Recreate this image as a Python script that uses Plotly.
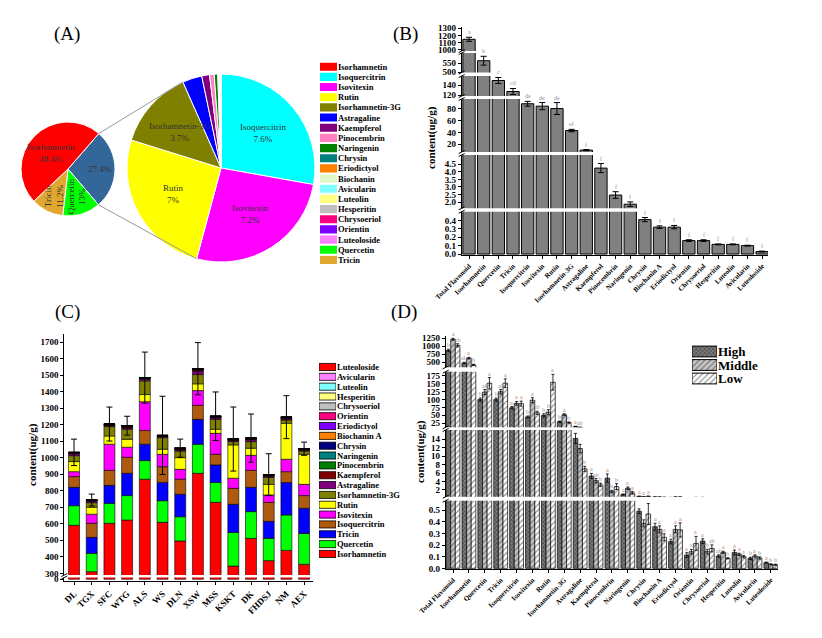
import numpy as np
import plotly.graph_objects as go

W, H = 822, 638
SERIF = "Liberation Serif"

# ---------------- panel A : pie of pie ----------------
small_pie_labels = ["Others", "Quercetin", "Tricin", "Isorhamnetin"]
small_pie_share = [27.4, 13.0, 11.2, 48.4]
small_pie_text = ["27.4%", "Quercetin<br>13%", "Tricin<br>11.2%", "Isorhamnetin<br>48.4%"]
small_pie_text_angle = [0, -90, -90, 0]
small_pie_text_radius = [0.68, 0.62, 0.66, 0.5]
small_pie_colors = ["#336699", "#00ff00", "#e0a830", "#ff0000"]

big_pie_labels = ["Isoquercitrin", "Isovitexin", "Rutin", "Isorhamnetin-3G", "Astragaline",
                  "Kaempferol", "Pinocembrin", "Naringenin", "Chrysin", "Eriodictyol",
                  "Biochanin", "Avicularin", "Luteolin", "Hesperitin", "Chrysoeriol",
                  "Orientin", "Luteoloside"]
big_pie_values = [87.4, 82.8, 80.5, 42.6, 10.5, 4.2, 2.5, 1.9, 0.41, 0.32,
                  0.32, 0.10, 0.115, 0.115, 0.16, 0.16, 0.03]
big_pie_text = ["Isoquercitrin<br>7.6%", "Isovitexin<br>7.2%", "Rutin<br>7%",
                "Isorhamnetin-3G<br>3.7%"] + [""] * 13
big_pie_colors = ["#00ffff", "#ff00ff", "#ffff00", "#808000", "#0000ff", "#800080",
                  "#ff80c0", "#008000", "#008080", "#ff8000", "#e0f8c8", "#80ffff",
                  "#ffff80", "#c0c0c0", "#ff0080", "#8000ff", "#ff80ff"]

legend_a_names = ["Isorhamnetin", "Isoquercitrin", "Isovitexin", "Rutin", "Isorhamnetin-3G",
                  "Astragaline", "Kaempferol", "Pinocembrin", "Naringenin", "Chrysin",
                  "Eriodictyol", "Biochanin", "Avicularin", "Luteolin", "Hesperitin",
                  "Chrysoeriol", "Orientin", "Luteoloside", "Quercetin", "Tricin"]
legend_a_colors = ["#ff0000", "#00ffff", "#ff00ff", "#ffff00", "#808000", "#0000ff",
                   "#800080", "#ff80c0", "#008000", "#008080", "#ff8000", "#e0f8c8",
                   "#80ffff", "#ffff80", "#c0c0c0", "#ff0080", "#8000ff", "#ff80ff",
                   "#00ff00", "#e0a830"]

# ---------------- panel B : mean content ----------------
compounds = ["Total Flavonoid", "Isorhamnetin", "Quercetin", "Tricin", "Isoquercitrin",
             "Isovitexin", "Rutin", "Isorhamnetin-3G", "Astragaline", "Kaempferol",
             "Pinocembrin", "Naringenin", "Chrysin", "Biochanin A", "Eriodictyol",
             "Orientin", "Chrysoeriol", "Hesperitin", "Luteolin", "Avicularin", "Luteoloside"]
content_mean = [1148, 563, 149, 127, 88, 84, 80, 43, 10.2, 4.24, 2.47, 1.87,
                0.41, 0.32, 0.32, 0.16, 0.16, 0.115, 0.115, 0.10, 0.03]
content_sd = [28, 24, 6, 6, 4, 6, 10, 2, 1, 0.3, 0.22, 0.15,
              0.025, 0.015, 0.02, 0.01, 0.01, 0.005, 0.005, 0.005, 0.005]
content_letters = ["a", "b", "c", "cd", "de", "de", "de", "ef", "f", "f", "f", "f",
                   "f", "f", "f", "f", "f", "f", "f", "f", "f"]

# ---------------- panel C : stacked content per site ----------------
sites = ["DL", "TGX", "SFC", "WTG", "ALS", "WS", "DLN", "XSW", "MSS", "KSKT", "DK", "FHDSJ", "NM", "AEX"]
isorhamnetin = [591, 310, 603, 623, 870, 609, 496, 906, 730, 344, 512, 377, 439, 355]
quercetin = [119, 111, 121, 148, 113, 131, 147, 176, 121, 204, 162, 135, 215, 187]
tricin = [111, 97, 109, 135, 99, 111, 136, 151, 106, 170, 147, 103, 196, 152]
isoquercitrin = [65, 85, 91, 97, 83, 95, 91, 85, 64, 97, 103, 115, 66, 77]
isovitexin = [30, 55, 158, 61, 175, 75, 60, 89, 127, 61, 91, 45, 75, 68]
rutin = [61, 42, 50, 48, 43, 31, 71, 41, 25, 202, 43, 64, 218, 182]
isorhamnetin_3g = [36, 28, 57, 61, 83, 70, 40, 56, 60, 20, 40, 43, 20, 20]
astragaline = [12, 10, 6, 8, 10, 7, 8, 20, 10, 7, 12, 7, 8, 7]
kaempferol = [3.5, 2.5, 4.0, 6.5, 4.0, 2.5, 4.0, 8.0, 3.5, 3.5, 4.0, 3.5, 4.0, 2.5]
pinocembrin = [1.5, 1.2, 2.0, 3.0, 2.0, 1.5, 2.0, 3.0, 2.0, 2.0, 2.0, 2.0, 2.0, 1.8]
naringenin = [1.2, 1.0, 1.5, 2.0, 1.5, 1.2, 1.5, 2.2, 1.5, 1.5, 1.5, 1.4, 1.5, 1.2]
chrysin = [0.4, 0.3, 0.4, 0.5, 0.4, 0.4, 0.4, 0.6, 0.4, 0.4, 0.4, 0.4, 0.4, 0.3]
biochanin_a = [0.3, 0.3, 0.3, 0.4, 0.3, 0.3, 0.3, 0.4, 0.3, 0.3, 0.3, 0.3, 0.3, 0.3]
eriodictyol = [0.3, 0.3, 0.3, 0.4, 0.3, 0.3, 0.3, 0.4, 0.3, 0.3, 0.3, 0.3, 0.3, 0.3]
orientin = [0.2, 0.1, 0.2, 0.2, 0.2, 0.1, 0.2, 0.2, 0.2, 0.1, 0.2, 0.2, 0.2, 0.1]
chrysoeriol = [0.2, 0.1, 0.2, 0.2, 0.2, 0.2, 0.1, 0.2, 0.2, 0.2, 0.1, 0.2, 0.2, 0.1]
hesperitin = [0.1, 0.1, 0.1, 0.1, 0.1, 0.1, 0.1, 0.2, 0.1, 0.1, 0.1, 0.1, 0.1, 0.1]
luteolin = [0.1, 0.1, 0.1, 0.1, 0.1, 0.1, 0.1, 0.2, 0.1, 0.1, 0.1, 0.1, 0.1, 0.1]
avicularin = [0.1, 0.1, 0.1, 0.1, 0.1, 0.1, 0.1, 0.1, 0.1, 0.1, 0.1, 0.1, 0.1, 0.1]
luteoloside = [0.03, 0.03, 0.03, 0.04, 0.03, 0.03, 0.03, 0.04, 0.03, 0.03, 0.03, 0.03, 0.03, 0.03]
site_total_sd = [80, 36, 103, 57, 155, 237, 55, 158, 147, 194, 146, 127, 130, 40]

stack_names = ["Isorhamnetin", "Quercetin", "Tricin", "Isoquercitrin", "Isovitexin", "Rutin",
               "Isorhamnetin-3G", "Astragaline", "Kaempferol", "Pinocembrin", "Naringenin",
               "Chrysin", "Biochanin A", "Eriodictyol", "Orientin", "Chrysoeriol",
               "Hesperitin", "Luteolin", "Avicularin", "Luteoloside"]
stack_values = [isorhamnetin, quercetin, tricin, isoquercitrin, isovitexin, rutin,
                isorhamnetin_3g, astragaline, kaempferol, pinocembrin, naringenin,
                chrysin, biochanin_a, eriodictyol, orientin, chrysoeriol,
                hesperitin, luteolin, avicularin, luteoloside]
stack_colors = ["#ff0000", "#00ff00", "#0000ff", "#b05a10", "#ff00ff", "#ffff00",
                "#808000", "#800080", "#800000", "#008000", "#008080",
                "#000080", "#ff8000", "#8000ff", "#ff0080", "#c0c0c0",
                "#ffff80", "#80ffff", "#ff80ff", "#ff0000"]

# ---------------- panel D : by altitude group ----------------
group_names = ["High", "Middle", "Low"]
high_mean = [870, 480, 100, 100, 74, 45, 50, 30, 14.2, 5.3, 4.8, 0.9,
             0.49, 0.357, 0.23, 0.114, 0.234, 0.106, 0.137, 0.086, 0.049]
middle_mean = [1220, 630, 124, 125, 88, 98, 60, 52, 11.8, 4.2, 1.6, 2.4,
               0.386, 0.334, 0.334, 0.143, 0.143, 0.137, 0.12, 0.106, 0.034]
low_mean = [1030, 420, 152, 152, 87, 58, 155, 27, 7.0, 3.2, 2.8, 1.3,
            0.466, 0.266, 0.33, 0.214, 0.171, 0.086, 0.10, 0.089, 0.031]
high_sd = [40, 20, 5, 5, 4, 3, 5, 2, 1.2, 0.6, 1.0, 0.15,
           0.02, 0.03, 0.02, 0.02, 0.02, 0.01, 0.02, 0.01, 0.005]
middle_sd = [30, 25, 8, 7, 6, 8, 8, 3, 1.0, 0.5, 0.3, 0.3,
             0.03, 0.03, 0.03, 0.02, 0.02, 0.01, 0.01, 0.01, 0.005]
low_sd = [50, 20, 18, 14, 8, 5, 25, 2, 0.6, 0.4, 0.7, 0.3,
          0.09, 0.03, 0.06, 0.06, 0.03, 0.005, 0.01, 0.01, 0.005]
high_letters = ["b", "ab", "b", "b", "a", "b", "b", "b", "a", "a", "a", "a",
                "a", "a", "a", "a", "a", "ab", "a", "b", "a"]
middle_letters = ["a", "a", "ab", "ab", "a", "a", "b", "a", "ab", "ab", "b", "a",
                  "a", "a", "a", "a", "b", "a", "a", "a", "b"]
low_letters = ["ab", "b", "a", "a", "a", "ab", "a", "b", "b", "b", "b", "a",
               "a", "a", "a", "a", "ab", "b", "a", "b", "b"]


def xp(p):
    return p / W


def yp(p):
    return 1 - p / H


fig = go.Figure()
layout = dict()
shapes = []
annotations = []

axis_style = dict(showline=True, linecolor="black", linewidth=1, ticks="outside",
                  ticklen=3, tickcolor="black", showgrid=False, zeroline=False,
                  automargin=False,
                  tickfont=dict(family=SERIF, size=9, color="black", weight="bold"))


def paper_text(x, y, text, font, angle=0):
    annotations.append(dict(x=xp(x), y=yp(y), xref="paper", yref="paper", text=text,
                            xanchor="center", yanchor="middle", textangle=angle,
                            showarrow=False, font=font))


# ---- A: pies
small_c, small_r = (68, 169), 47
big_c, big_r = (221, 168), 94
small_rot = 41


def pie_domain(c, r):
    return dict(x=[xp(c[0] - r), xp(c[0] + r)], y=[yp(c[1] + r), yp(c[1] - r)])


def compass_pt(cx, cy, r, deg):
    a = np.deg2rad(deg)
    return cx + r * np.sin(a), cy - r * np.cos(a)


fig.add_trace(go.Pie(labels=small_pie_labels, values=small_pie_share, textinfo="none",
                     sort=False, direction="clockwise", rotation=small_rot,
                     marker=dict(colors=small_pie_colors, line=dict(color="white", width=1)),
                     domain=pie_domain(small_c, small_r), showlegend=False, hoverinfo="skip"))
fig.add_trace(go.Pie(labels=big_pie_labels, values=big_pie_values, textinfo="none",
                     sort=False, direction="clockwise", rotation=0,
                     marker=dict(colors=big_pie_colors, line=dict(color="white", width=1)),
                     domain=pie_domain(big_c, big_r), showlegend=False, hoverinfo="skip"))


def pie_labels(vals, texts, angles, fracs, c, r, rot):
    tot = sum(vals)
    start = rot
    for v, t, a, f in zip(vals, texts, angles, fracs):
        span = 360 * v / tot
        if t:
            x, y = compass_pt(c[0], c[1], r * f, start + span / 2)
            paper_text(x, y, t, dict(family=SERIF, size=9, color="#333333"), a)
        start += span


pie_labels(small_pie_share, small_pie_text, small_pie_text_angle, small_pie_text_radius,
           small_c, small_r, small_rot)
pie_labels(big_pie_values, big_pie_text, [0] * len(big_pie_text), [0.58] * len(big_pie_text),
           big_c, big_r, 0)

tot_big = sum(big_pie_values)
s_ang = [small_rot, small_rot + small_pie_share[0] * 3.6]
b_ang = [360 * sum(big_pie_values[:4]) / tot_big, 360 * sum(big_pie_values[:2]) / tot_big]
for sa, ba in zip(s_ang, b_ang):
    x0, y0 = compass_pt(*small_c, small_r, sa)
    x1, y1 = compass_pt(*big_c, big_r, ba)
    shapes.append(dict(type="line", xref="paper", yref="paper", x0=xp(x0), y0=yp(y0),
                       x1=xp(x1), y1=yp(y1), line=dict(color="#999999", width=1)))


def legend_box(xname, yname, names, colors, x_px, top_px, step, bar_w, size, outline):
    n = len(names)
    fig.add_trace(go.Bar(x=[1] * n, y=names, orientation="h", width=bar_w,
                         marker=dict(color=colors, line=dict(color="black", width=outline)),
                         xaxis=xname, yaxis=yname, showlegend=False, hoverinfo="skip"))
    layout["xaxis" + xname[1:]] = dict(domain=[xp(x_px[0]), xp(x_px[1])], range=[0, 1],
                                       visible=False, anchor=yname)
    layout["yaxis" + yname[1:]] = dict(
        domain=[yp(top_px + step * (n - 0.5)), yp(top_px - step * 0.5)],
        range=[n - 0.5, -0.5], side="right", anchor=xname, showline=False,
        showgrid=False, zeroline=False, ticks="", ticklen=0, automargin=False,
        tickmode="array", tickvals=names, ticktext=names,
        tickfont=dict(family=SERIF, size=size, color="black", weight="bold"))


legend_box("x4", "y13", legend_a_names, legend_a_colors, (320, 337), 66.7, 10.17, 0.8, 8.5, 0)


def seg_axes(prefix_idx, segs, xname):
    names = []
    for i, s in enumerate(segs):
        k = prefix_idx + i
        ax = dict(axis_style)
        ax.update(domain=[yp(s["px"][1]), yp(s["px"][0])], range=s["range"],
                  tickmode="array", tickvals=s["tickvals"], anchor=xname)
        if "fmt" in s:
            ax["tickformat"] = s["fmt"]
        layout["yaxis" if k == 1 else "yaxis%d" % k] = ax
        names.append("y" if k == 1 else "y%d" % k)
    return names


def break_marks(ax_px, segs):
    for upper, lower in zip(segs[:-1], segs[1:]):
        for yy in (upper["px"][1], lower["px"][0]):
            shapes.append(dict(type="line", xref="paper", yref="paper",
                               x0=xp(ax_px - 3), y0=yp(yy + 1.5), x1=xp(ax_px + 3),
                               y1=yp(yy - 1.5), line=dict(color="black", width=1)))


def seg_for(v, segs, names):
    for s, nm in zip(segs, names):
        if s["range"][0] <= v <= s["range"][1]:
            return nm
    return names[0]


def letter_color(t):
    if t == "a":
        return "#c07868"
    if t == "ab":
        return "#9a88a0"
    return "#7890b0"


# ---- B
b_segs = [
    dict(px=(27, 51), range=[986, 1318], tickvals=[1000, 1100, 1200, 1300]),
    dict(px=(53, 72.5), range=[499, 605], tickvals=[500, 550]),
    dict(px=(76, 96), range=[118, 158], tickvals=[120, 140]),
    dict(px=(99, 152), range=[7, 96], tickvals=[20, 40, 60, 80]),
    dict(px=(155, 208.3), range=[1.6, 5.1], tickvals=[2.0, 2.5, 3.0, 3.5, 4.0, 4.5], fmt=".1f"),
    dict(px=(211.7, 255.3), range=[-0.015, 0.504], tickvals=[0, 0.1, 0.2, 0.3, 0.4], fmt=".1f"),
]
b_y = seg_axes(1, b_segs, "x")
xb = dict(axis_style)
xb.update(domain=[xp(461.7), xp(768)], range=[-0.5, 20.4], anchor=b_y[-1], tickangle=-45,
          tickmode="array", tickvals=compounds,
          tickfont=dict(family=SERIF, size=7, color="black", weight="bold"))
layout["xaxis"] = xb
for yn in b_y:
    fig.add_trace(go.Bar(x=compounds, y=content_mean, width=0.84, xaxis="x", yaxis=yn,
                         marker=dict(color="#808080", line=dict(color="black", width=1)),
                         error_y=dict(type="data", array=content_sd, color="black",
                                      thickness=1, width=3),
                         showlegend=False, hoverinfo="skip"))
for c, m, s, t in zip(compounds, content_mean, content_sd, content_letters):
    annotations.append(dict(x=c, y=m + s, xref="x", yref=seg_for(m + s, b_segs, b_y),
                            text=t, showarrow=False, yshift=5, xanchor="center",
                            font=dict(family=SERIF, size=6, color="#8090a8")))
break_marks(461.7, b_segs)

# ---- C
c_segs = [
    dict(px=(334.3, 575), range=[290, 1748], tickvals=list(range(300, 1800, 100))),
    dict(px=(577.5, 581), range=[-7, 7], tickvals=[0]),
]
c_y = seg_axes(7, c_segs, "x2")
xc = dict(axis_style)
xc.update(domain=[xp(64.3), xp(313.3)], range=[-0.55, 13.52], anchor=c_y[-1], tickangle=-45,
          tickmode="array", tickvals=sites)
layout["xaxis2"] = xc
stack = np.array(stack_values, dtype=float)
bases = np.vstack([np.zeros(stack.shape[1]), np.cumsum(stack, axis=0)[:-1]])
totals = stack.sum(axis=0)
for yn in c_y:
    for i, nm in enumerate(stack_names):
        fig.add_trace(go.Bar(x=sites, y=stack[i], base=bases[i], width=0.62,
                             xaxis="x2", yaxis=yn, name=nm,
                             marker=dict(color=stack_colors[i], line=dict(color="black", width=0.6)),
                             showlegend=False, hoverinfo="skip"))
fig.add_trace(go.Scatter(x=sites, y=totals, mode="markers", xaxis="x2", yaxis=c_y[0],
                         marker=dict(size=1, color="rgba(0,0,0,0)"),
                         error_y=dict(type="data", array=site_total_sd, color="black",
                                      thickness=1, width=3),
                         showlegend=False, hoverinfo="skip"))
break_marks(64.3, c_segs)
legend_box("x5", "y14", stack_names[::-1], stack_colors[::-1], (319, 336), 367, 9.84, 0.72, 8.5, 0.8)

# ---- D
d_segs = [
    dict(px=(335.7, 367.3), range=[344, 1331], tickvals=[500, 750, 1000, 1250]),
    dict(px=(371.7, 427.3), range=[12, 188.6], tickvals=[25, 50, 75, 100, 125, 150, 175]),
    dict(px=(430, 496.7), range=[0.4, 16.2], tickvals=[2, 4, 6, 8, 10, 12, 14]),
    dict(px=(500.7, 569.3), range=[-0.008, 0.58], tickvals=[0, 0.1, 0.2, 0.3, 0.4, 0.5], fmt=".1f"),
]
d_y = seg_axes(9, d_segs, "x3")
xd_dom = (445.7, 778)
xd_rng = (-0.46, 20.45)
xd = dict(axis_style)
xd.update(domain=[xp(xd_dom[0]), xp(xd_dom[1])], range=list(xd_rng), anchor=d_y[-1],
          tickangle=-45, tickmode="array", tickvals=compounds,
          tickfont=dict(family=SERIF, size=7, color="black", weight="bold"))
layout["xaxis3"] = xd
px_per_unit = (xd_dom[1] - xd_dom[0]) / (xd_rng[1] - xd_rng[0])
bw = 0.29
d_means = [high_mean, middle_mean, low_mean]
d_sds = [high_sd, middle_sd, low_sd]
d_lets = [high_letters, middle_letters, low_letters]
d_pat = [dict(shape="x", fgcolor="black", bgcolor="#7a7a7a", size=3, solidity=0.35),
         dict(shape="/", fgcolor="#222", bgcolor="#c8c8c8", size=4, solidity=0.3),
         dict(shape="/", fgcolor="black", bgcolor="white", size=4, solidity=0.25)]
for k in range(3):
    for yn in d_y:
        fig.add_trace(go.Bar(x=compounds, y=d_means[k], width=bw, offset=-1.5 * bw + k * bw,
                             xaxis="x3", yaxis=yn, name=group_names[k],
                             marker=dict(color=d_pat[k]["bgcolor"], pattern=d_pat[k],
                                         line=dict(color="black", width=0.7)),
                             error_y=dict(type="data", array=d_sds[k], color="black",
                                          thickness=0.8, width=1.5),
                             showlegend=False, hoverinfo="skip"))
    for c, m, s, t in zip(compounds, d_means[k], d_sds[k], d_lets[k]):
        annotations.append(dict(x=c, y=m + s, xref="x3", yref=seg_for(m + s, d_segs, d_y),
                                text=t, showarrow=False, yshift=4, xanchor="center",
                                xshift=(k - 1) * bw * px_per_unit,
                                font=dict(family=SERIF, size=6, color=letter_color(t))))
break_marks(445.7, d_segs)

# D legend
for k in range(3):
    fig.add_trace(go.Bar(x=[1], y=[group_names[k]], orientation="h", width=0.8,
                         marker=dict(color=d_pat[k]["bgcolor"], pattern=d_pat[k],
                                     line=dict(color="black", width=1)),
                         xaxis="x6", yaxis="y15", showlegend=False, hoverinfo="skip"))
layout["xaxis6"] = dict(domain=[xp(692), xp(717)], range=[0, 1], visible=False, anchor="y15")
layout["yaxis15"] = dict(domain=[yp(385.25), yp(344.75)], range=[2.5, -0.5], side="right",
                         anchor="x6", showline=False, showgrid=False, zeroline=False,
                         ticks="", automargin=False, tickmode="array", tickvals=group_names,
                         tickfont=dict(family=SERIF, size=13, color="black", weight="bold"))

# panel letters and axis titles
for txt, x, y in [("(A)", 67, 34), ("(B)", 405, 34), ("(C)", 67, 312), ("(D)", 404, 312)]:
    paper_text(x, y, txt, dict(family=SERIF, size=19, color="black"))
for x, y in [(431, 138), (32, 455), (420, 452)]:
    paper_text(x, y, "content(ug/g)", dict(family=SERIF, size=11, color="black", weight="bold"), -90)

fig.update_layout(width=W, height=H,
                  margin=dict(l=0, r=0, t=0, b=0, pad=0, autoexpand=False),
                  paper_bgcolor="white", plot_bgcolor="white", barmode="overlay",
                  showlegend=False, shapes=shapes, annotations=annotations,
                  font=dict(family=SERIF), **layout)
fig.write_html("out.html", config={"displayModeBar": False},
               post_script="document.body.style.margin='0';")
